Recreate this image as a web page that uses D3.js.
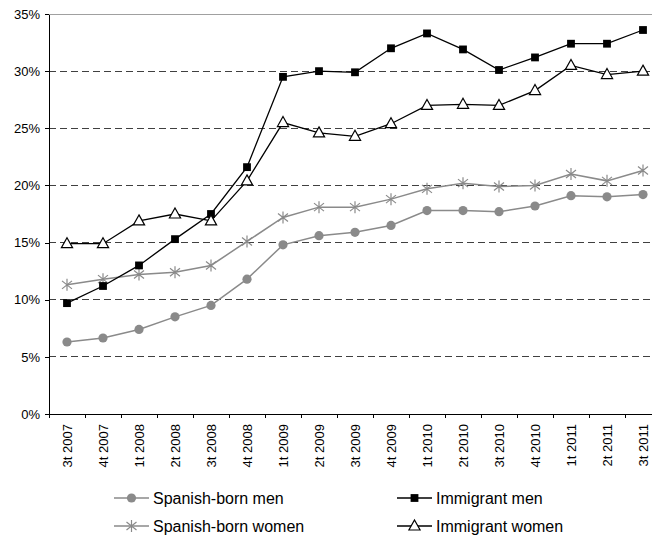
<!DOCTYPE html>
<html>
<head>
<meta charset="utf-8">
<script src="https://cdn.jsdelivr.net/npm/d3@7"></script>
<style>
  html, body { margin: 0; padding: 0; background: #fff; }
  svg { display: block; font-family: "Liberation Sans", Arial, sans-serif; }
</style>
</head>
<body>
<svg id="chart" width="652" height="543"></svg>
<script>
// Quarterly unemployment rates by origin and sex (%)
const quarters = ["3t 2007","4t 2007","1t 2008","2t 2008","3t 2008","4t 2008","1t 2009","2t 2009","3t 2009","4t 2009","1t 2010","2t 2010","3t 2010","4t 2010","1t 2011","2t 2011","3t 2011"];
const spanishMen   = [6.3, 6.65, 7.4, 8.5, 9.5, 11.8, 14.8, 15.6, 15.9, 16.5, 17.8, 17.8, 17.7, 18.2, 19.1, 19.0, 19.2];
const spanishWomen = [11.3, 11.8, 12.2, 12.4, 13.0, 15.1, 17.2, 18.1, 18.1, 18.8, 19.7, 20.2, 19.9, 20.0, 21.0, 20.4, 21.3];
const immigrantMen = [9.7, 11.2, 13.0, 15.3, 17.5, 21.6, 29.5, 30.0, 29.9, 32.0, 33.3, 31.9, 30.1, 31.2, 32.4, 32.4, 33.6];
const immigrantWomen = [14.9, 14.9, 16.9, 17.5, 16.9, 20.4, 25.5, 24.6, 24.3, 25.4, 27.0, 27.1, 27.0, 28.3, 30.5, 29.7, 30.0];
const yTicks = [0, 5, 10, 15, 20, 25, 30, 35];

const series = [
  { name: "Spanish-born men",   values: spanishMen,     color: "#8a8a8a", marker: "circle" },
  { name: "Immigrant men",      values: immigrantMen,   color: "#000000", marker: "square" },
  { name: "Spanish-born women", values: spanishWomen,   color: "#8a8a8a", marker: "star" },
  { name: "Immigrant women",    values: immigrantWomen, color: "#000000", marker: "triangle" }
];

const svg = d3.select("#chart");
const mLeft = 49, mTop = 14, plotH = 400, band = 36;

const x = d3.scaleBand().domain(quarters).range([mLeft, mLeft + band * quarters.length]).paddingInner(0).paddingOuter(0);
const y = d3.scaleLinear().domain([0, 35]).range([mTop + plotH, mTop]);
const cx = q => x(q) + x.bandwidth() / 2;

// Horizontal gridlines
svg.append("g").selectAll("line")
  .data(yTicks.filter(v => v > 0))
  .join("line")
  .attr("x1", mLeft).attr("x2", x.range()[1])
  .attr("y1", d => y(d)).attr("y2", d => y(d))
  .attr("stroke", d => d === 35 ? "#a0a0a0" : "#404040")
  .attr("stroke-width", 1)
  .attr("stroke-dasharray", d => d === 35 ? null : "7,4")
  .attr("shape-rendering", "crispEdges");

// Y axis
const yAxis = svg.append("g")
  .attr("transform", `translate(${mLeft},0)`)
  .call(d3.axisLeft(y).tickValues(yTicks).tickFormat(d => d + "%").tickSize(4).tickSizeOuter(0).tickPadding(5));
yAxis.select(".domain").attr("stroke", "#000").attr("shape-rendering", "crispEdges");
yAxis.selectAll(".tick line").attr("stroke", "#000").attr("shape-rendering", "crispEdges");
yAxis.selectAll("text").attr("font-size", 13).attr("fill", "#000").attr("font-family", "Liberation Sans, Arial, sans-serif");

// X axis: labels at band centres, tick marks at band edges
const xAxis = svg.append("g")
  .attr("transform", `translate(0,${mTop + plotH})`)
  .call(d3.axisBottom(x).tickSize(0).tickSizeOuter(0).tickPadding(0));
xAxis.select(".domain").attr("stroke", "#000").attr("shape-rendering", "crispEdges");
xAxis.selectAll("text")
  .attr("font-size", 13).attr("fill", "#000")
  .attr("font-family", "Liberation Sans, Arial, sans-serif")
  .attr("transform", "rotate(-90)")
  .attr("text-anchor", "end")
  .attr("x", -10).attr("y", 0).attr("dy", "0.35em");
xAxis.selectAll(".edge")
  .data(quarters.concat(["end"]))
  .join("line")
  .attr("class", "edge")
  .attr("x1", (d, i) => mLeft + i * x.bandwidth())
  .attr("x2", (d, i) => mLeft + i * x.bandwidth())
  .attr("y1", 0).attr("y2", 4)
  .attr("stroke", "#000")
  .attr("shape-rendering", "crispEdges");

// Marker drawing
function drawMarker(sel, type, color) {
  if (type === "circle") {
    sel.append("circle").attr("r", 4.6).attr("fill", color).attr("stroke", "none");
  } else if (type === "square") {
    sel.append("rect").attr("x", -3.9).attr("y", -3.9).attr("width", 7.8).attr("height", 7.8).attr("fill", color);
  } else if (type === "triangle") {
    sel.append("path").attr("d", "M0,-6 L5.6,4 L-5.6,4 Z")
      .attr("fill", "#fff").attr("stroke", color).attr("stroke-width", 1.2);
  } else if (type === "star") {
    sel.append("path").attr("d", "M0,-6 L0,6 M-5,-4 L5,4 M-5,4 L5,-4")
      .attr("fill", "none").attr("stroke", color).attr("stroke-width", 1.2);
  }
}

const line = d3.line().x(d => cx(d.q)).y(d => y(d.v));
const drawOrder = [series[0], series[2], series[1], series[3]];
drawOrder.forEach(s => {
  const pts = quarters.map((q, i) => ({ q, v: s.values[i] }));
  const g = svg.append("g");
  g.append("path").datum(pts)
    .attr("d", line).attr("fill", "none")
    .attr("stroke", s.color).attr("stroke-width", s.color === "#000000" ? 1.3 : 1.5);
  g.selectAll(".m").data(pts).join("g")
    .attr("class", "m")
    .attr("transform", d => `translate(${cx(d.q)},${y(d.v)})`)
    .each(function () { drawMarker(d3.select(this), s.marker, s.color); });
});

// Legend
const legendPos = [
  { s: series[0], x: 114, y: 498 },
  { s: series[1], x: 397, y: 498 },
  { s: series[2], x: 114, y: 526 },
  { s: series[3], x: 397, y: 526 }
];
legendPos.forEach(p => {
  const g = svg.append("g").attr("transform", `translate(${p.x},${p.y})`);
  g.append("line").attr("x1", 0).attr("x2", 35).attr("y1", 0).attr("y2", 0)
    .attr("stroke", p.s.color).attr("stroke-width", p.s.color === "#000000" ? 1.3 : 1.5);
  drawMarker(g.append("g").attr("transform", "translate(17.5,0)"), p.s.marker, p.s.color);
  g.append("text").attr("x", 39).attr("y", 0).attr("dy", "0.35em")
    .attr("font-size", 16).attr("fill", "#000").text(p.s.name);
});
</script>
</body>
</html>
